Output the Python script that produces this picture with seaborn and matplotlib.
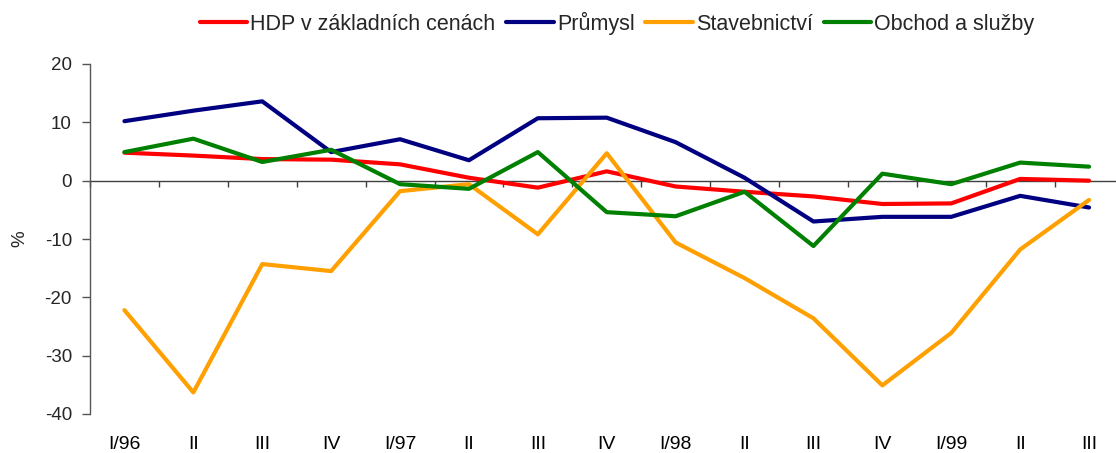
import numpy as np
import pandas as pd
import matplotlib
matplotlib.use("Agg")
import matplotlib.pyplot as plt
import seaborn as sns

# Quarterly growth, %
quarters = ["I/96", "II", "III", "IV", "I/97", "II", "III", "IV",
            "I/98", "II", "III", "IV", "I/99", "II", "III"]
hdp = [4.8, 4.3, 3.7, 3.6, 2.8, 0.5, -1.2, 1.6, -1.0, -1.9, -2.7, -4.0, -3.9, 0.3, 0.0]
prumysl = [10.2, 12.0, 13.6, 4.9, 7.1, 3.5, 10.7, 10.8, 6.6, 0.5, -7.0, -6.2, -6.2, -2.6, -4.6]
stavebnictvi = [-22.2, -36.3, -14.3, -15.5, -1.8, -0.6, -9.2, 4.7, -10.6, -16.7, -23.6, -35.1, -26.1, -11.8, -3.3]
obchod = [4.9, 7.2, 3.2, 5.3, -0.6, -1.4, 4.9, -5.4, -6.1, -1.9, -11.2, 1.2, -0.6, 3.1, 2.4]

series_names = ["HDP v základních cenách", "Průmysl", "Stavebnictví", "Obchod a služby"]
series_colors = ["#FF0000", "#000080", "#FFA000", "#008000"]

sns.set_style("white")
plt.rcParams["font.family"] = ["Liberation Sans", "DejaVu Sans"]
plt.rcParams["axes.unicode_minus"] = False

# long-form table for seaborn
pos = np.arange(len(quarters))
df = pd.concat([
    pd.DataFrame({"pos": pos, "value": vals, "series": name})
    for name, vals in zip(series_names, [hdp, prumysl, stavebnictvi, obchod])
])

fig = plt.figure(figsize=(11.16, 4.53), dpi=100)
ax = fig.add_axes([90 / 1116, 39 / 453, 1026 / 1116, 350 / 453])

sns.lineplot(data=df, x="pos", y="value", hue="series", hue_order=series_names,
             palette=series_colors, linewidth=3, sort=False, ax=ax)

handles, labels = ax.get_legend_handles_labels()
ax.get_legend().remove()
leg = fig.legend(handles, labels, loc="center", bbox_to_anchor=(0.553, 0.949),
                 ncol=4, frameon=False, fontsize=15.5, handlelength=2.2,
                 handletextpad=0.15, columnspacing=0.5)
for h in leg.get_lines():
    h.set_linewidth(3)

ax.set_xlim(-0.5, -0.5 + 1026 / 68.9)
ax.set_ylim(-40, 20)
ax.set_yticks([20, 10, 0, -10, -20, -30, -40])
ax.set_xticks(pos)
ax.set_xticklabels(quarters)
ax.set_xlabel("")
ax.set_ylabel("%", fontsize=13.5, labelpad=12)

for side in ["top", "right", "bottom"]:
    ax.spines[side].set_visible(False)
ax.spines["left"].set_color("#555555")
ax.spines["left"].set_linewidth(1.0)

ax.tick_params(axis="x", length=0, pad=15.5, labelsize=14, colors="black")
ax.tick_params(axis="y", length=5.5, width=1.0, color="#555555", pad=7.5,
               labelsize=13.5, direction="out", left=True)

# zero line with category separator ticks
zero_ax = ax.secondary_xaxis(0, transform=ax.transData)
zero_ax.set_xticks(np.arange(-0.5, len(quarters), 1))
zero_ax.tick_params(axis="x", length=4.5, width=1.0, color="#404040",
                    direction="out", labelbottom=False)
zero_ax.spines["bottom"].set_color("#404040")
zero_ax.spines["bottom"].set_linewidth(1.0)

fig.savefig("out.png", dpi=100)
